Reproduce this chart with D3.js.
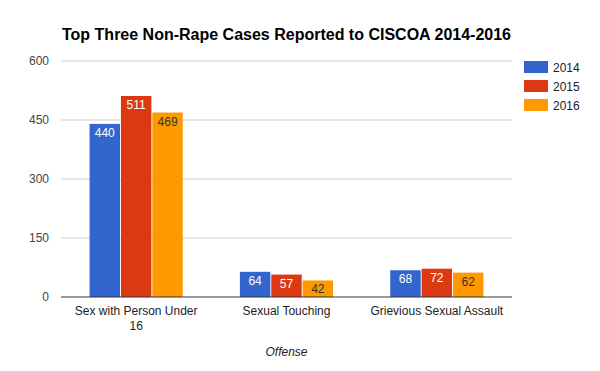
<!DOCTYPE html>
<html>
<head>
    <script src="https://d3js.org/d3.v7.min.js"></script>
    <style>
        body { margin: 0; background: #fff; }
        svg { font-family: Arial, "Liberation Sans", sans-serif; }
    </style>
</head>
<body>
    <svg id="chart" width="600" height="371"></svg>
    <script>
        // data
        const offenses = ["Sex with Person Under 16", "Sexual Touching", "Grievious Sexual Assault"];
        const years = ["2014", "2015", "2016"];
        const cases2014 = [440, 64, 68];
        const cases2015 = [511, 57, 72];
        const cases2016 = [469, 42, 62];
        const yTicks = [0, 150, 300, 450, 600];
        const colors = ["#3366cc", "#dc3912", "#ff9900"];
        const labelColors = ["#fff", "#fff", "#333"];

        const series = [cases2014, cases2015, cases2016];

        const svg = d3.select("#chart");
        const margin = { top: 61, right: 88, bottom: 74, left: 61 };
        const width = 600 - margin.left - margin.right;
        const height = 371 - margin.top - margin.bottom;

        const g = svg.append("g").attr("transform", `translate(${margin.left},${margin.top})`);

        const x0 = d3.scaleBand().domain(offenses).range([0, width]).paddingInner(0.38).paddingOuter(0.19);
        const x1 = d3.scaleBand().domain(years).range([0, x0.bandwidth()]).paddingInner(0.03);
        const y = d3.scaleLinear().domain([0, 600]).range([height, 0]);

        // gridlines
        g.selectAll(".grid")
            .data(yTicks.filter(d => d > 0))
            .enter()
            .append("line")
            .attr("x1", 0)
            .attr("x2", width)
            .attr("y1", d => y(d))
            .attr("y2", d => y(d))
            .attr("stroke", "#cccccc")
            .attr("stroke-width", 1);

        // y axis labels
        const yAxis = d3.axisLeft(y).tickValues(yTicks).tickSize(0).tickPadding(12);
        g.append("g").call(yAxis)
            .call(a => a.select(".domain").remove())
            .selectAll("text")
            .attr("font-size", 12)
            .attr("font-family", "Arial, 'Liberation Sans', sans-serif")
            .attr("fill", "#444");

        // bars
        const groups = g.selectAll(".group")
            .data(offenses)
            .enter()
            .append("g")
            .attr("transform", d => `translate(${x0(d)},0)`);

        groups.each(function (offense, i) {
            const grp = d3.select(this);
            years.forEach((yr, j) => {
                const v = series[j][i];
                grp.append("rect")
                    .attr("x", x1(yr))
                    .attr("y", y(v))
                    .attr("width", x1.bandwidth())
                    .attr("height", height - y(v))
                    .attr("fill", colors[j]);
                grp.append("text")
                    .attr("x", x1(yr) + x1.bandwidth() / 2)
                    .attr("y", y(v) + 13)
                    .attr("text-anchor", "middle")
                    .attr("font-size", 12)
                    .attr("fill", labelColors[j])
                    .text(v);
            });
        });

        // baseline
        g.append("line")
            .attr("x1", 0).attr("x2", width)
            .attr("y1", height).attr("y2", height)
            .attr("stroke", "#333").attr("stroke-width", 1);

        // x labels, wrapped like the original
        const xLabelLines = [["Sex with Person Under", "16"], ["Sexual Touching"], ["Grievious Sexual Assault"]];
        offenses.forEach((o, i) => {
            const t = g.append("text")
                .attr("x", x0(o) + x0.bandwidth() / 2)
                .attr("y", height + 18)
                .attr("text-anchor", "middle")
                .attr("font-size", 12)
                .attr("fill", "#222");
            xLabelLines[i].forEach((line, k) => {
                t.append("tspan")
                    .attr("x", x0(o) + x0.bandwidth() / 2)
                    .attr("dy", k === 0 ? 0 : 15)
                    .text(line);
            });
        });

        // axis title
        svg.append("text")
            .attr("x", margin.left + width / 2)
            .attr("y", 356)
            .attr("text-anchor", "middle")
            .attr("font-size", 12)
            .attr("font-style", "italic")
            .attr("fill", "#222")
            .text("Offense");

        // chart title
        svg.append("text")
            .attr("x", margin.left + width / 2)
            .attr("y", 40)
            .attr("text-anchor", "middle")
            .attr("font-size", 16)
            .attr("font-weight", "bold")
            .attr("fill", "#000")
            .text("Top Three Non-Rape Cases Reported to CISCOA 2014-2016");

        // legend
        const legend = svg.append("g").attr("transform", "translate(524,61)");
        years.forEach((yr, j) => {
            legend.append("rect")
                .attr("x", 0).attr("y", j * 19)
                .attr("width", 24).attr("height", 12)
                .attr("fill", colors[j]);
            legend.append("text")
                .attr("x", 29).attr("y", j * 19 + 10.5)
                .attr("font-size", 12)
                .attr("fill", "#222")
                .text(yr);
        });
    </script>
</body>
</html>
